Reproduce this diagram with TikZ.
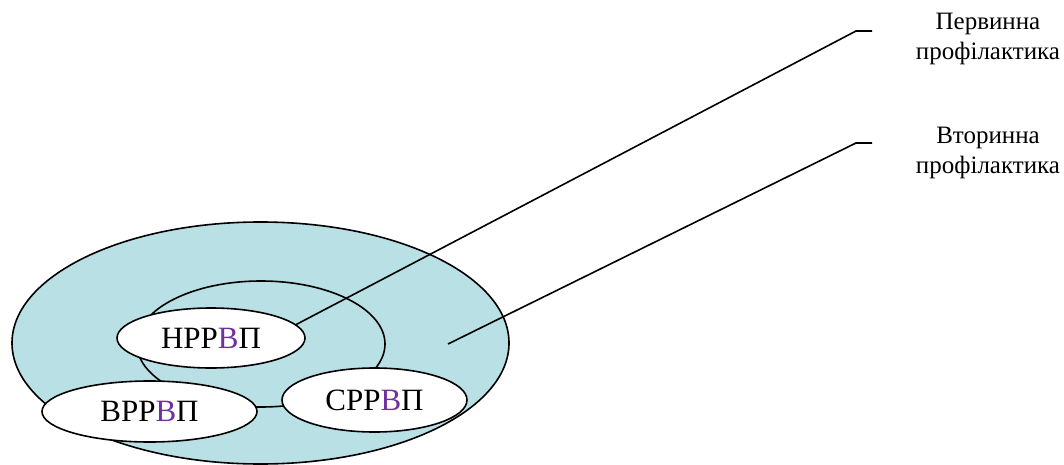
\documentclass[tikz,border=0pt]{standalone}
\usepackage{fontspec}
\setmainfont{Liberation Serif}
\usetikzlibrary{shapes.geometric}
\definecolor{ringfill}{RGB}{185,224,228}
\definecolor{letterpurple}{RGB}{112,48,160}
\newcommand{\pB}{\textcolor{letterpurple}{В}}

\begin{document}
\begin{tikzpicture}[x=1pt,y=-1pt]
  \tikzstyle{areaEll}=[ellipse,draw=black,line width=1.6pt,fill=ringfill,inner sep=0pt]
  \tikzstyle{RRnode}=[ellipse,draw=black,line width=1.6pt,fill=white,inner sep=0pt,font=\fontsize{31}{36}\selectfont]
  \tikzstyle{caption}=[align=center,font=\fontsize{25}{30}\selectfont]
  \useasboundingbox (0,0) rectangle (1064,465);

  % prevention areas
  \node[areaEll, minimum width=497pt, minimum height=242pt] (outer) at (260.5,343) {};
  \node[areaEll, minimum width=248pt, minimum height=126pt] (inner) at (261,344) {};

  % risk groups
  \node[RRnode, minimum width=215pt, minimum height=61pt] (vrr) at (149.5,411.5) {ВРР\pB П};
  \node[RRnode, minimum width=185pt, minimum height=64pt] (srr) at (374.5,400) {СРР\pB П};
  \node[RRnode, minimum width=188pt, minimum height=60pt] (nrr) at (211,338) {НРР\pB П};

  % captions
  \node[caption] (prim) at (988,39) {Первинна\\профілактика};
  \node[caption] (sec) at (988,153) {Вторинна\\профілактика};

  % leaders
  \coordinate (c1) at (856,31);
  \coordinate (e1) at (872,31);
  \coordinate (s2) at (448,344);
  \coordinate (c2) at (856,143);
  \coordinate (e2) at (872,143);

  \draw[line width=1.6pt] (nrr.9) -- (c1) -- (e1);
  \draw[line width=1.6pt] (s2) -- (c2) -- (e2);

\end{tikzpicture}
\end{document}
